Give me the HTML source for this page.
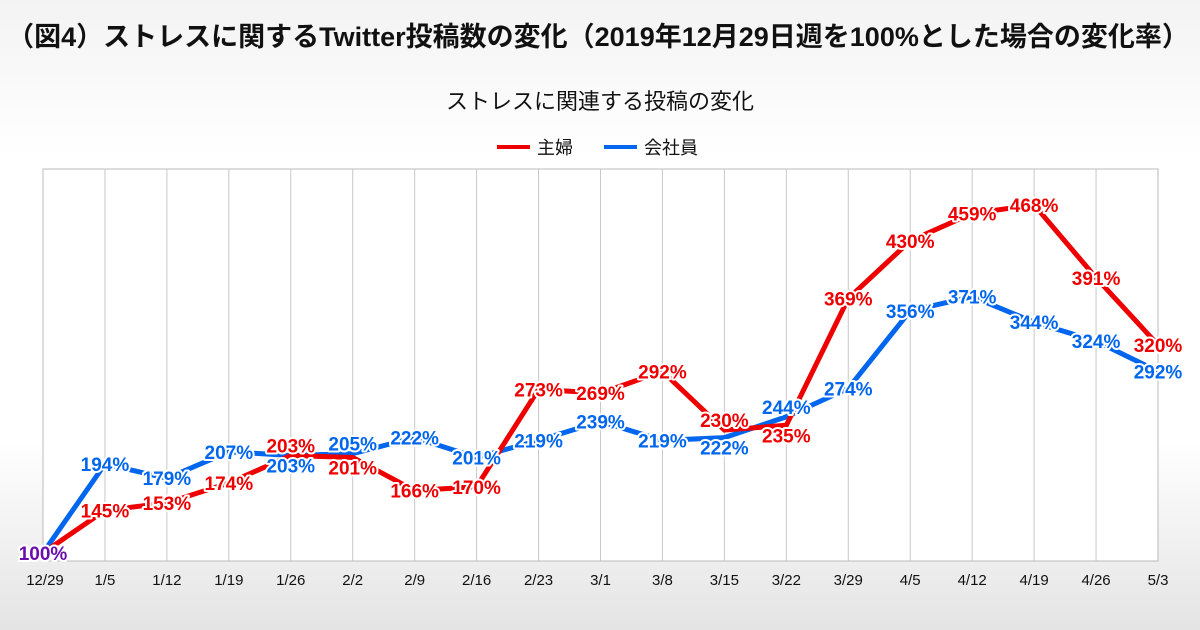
<!DOCTYPE html>
<html><head><meta charset="utf-8"><style>
html,body{margin:0;padding:0}
body{width:1200px;height:630px;overflow:hidden;background:linear-gradient(#f3f3f3 0%,#fff 25%,#fff 70%,#e4e4e4 100%);font-family:"Liberation Sans","Noto Sans CJK JP",sans-serif}
</style></head><body>
<svg width="1200" height="630" style="position:absolute;left:0;top:0;font-family:'Liberation Sans','Noto Sans CJK JP',sans-serif">
<text x="598" y="46" text-anchor="middle" font-size="27" font-weight="bold" fill="#111">（図4）ストレスに関するTwitter投稿数の変化（2019年12月29日週を100%とした場合の変化率）</text>
<text x="600" y="109" text-anchor="middle" font-size="22" fill="#111">ストレスに関連する投稿の変化</text>
<g>
<line x1="497" y1="147" x2="530" y2="147" stroke="#ee0000" stroke-width="4"/>
<text x="537" y="154" font-size="18" fill="#111">主婦</text>
<line x1="604" y1="147" x2="637" y2="147" stroke="#0066ee" stroke-width="4"/>
<text x="644" y="154" font-size="18" fill="#111">会社員</text>
</g>
<rect x="43" y="169" width="1115" height="392" fill="#fff" stroke="#bbb"/>
<g id="grid"></g><g id="xt"></g><g id="lines"></g><g id="labels"></g>
</svg>
<script>
const categories=["12/29","1/5","1/12","1/19","1/26","2/2","2/9","2/16","2/23","3/1","3/8","3/15","3/22","3/29","4/5","4/12","4/19","4/26","5/3"];
const housewife=[100,145,153,174,203,201,166,170,273,269,292,230,235,369,430,459,468,391,320];
const employee=[100,194,179,207,203,205,222,201,219,239,219,222,244,274,356,371,344,324,292];
const NS="http://www.w3.org/2000/svg";
const L=43,R=1158,T=169,B=561,ymin=91.5,ymax=506;
const xs=i=>L+i*(R-L)/(categories.length-1);
const ys=v=>B-(v-ymin)/(ymax-ymin)*(B-T);
function mk(t,a,p){const e=document.createElementNS(NS,t);for(const k in a)e.setAttribute(k,a[k]);p.appendChild(e);return e;}
const grid=document.getElementById('grid'),xt=document.getElementById('xt');
categories.forEach((c,i)=>{
 if(i>0&&i<categories.length-1){const g=mk('line',{x1:xs(i),x2:xs(i),y1:T,y2:B,stroke:'#c8c8c8'},grid);
 
 }
 const t=mk('text',{x:xs(i)+(i==0?2:0),y:585,'text-anchor':'middle','font-size':15,fill:'#111'},xt);t.textContent=c;
 
 
});
const lines=document.getElementById('lines'),labels=document.getElementById('labels');
function series(d,other,col,name,tieUp){
 const p=mk('polyline',{points:d.map((v,i)=>xs(i)+','+ys(v)).join(' '),fill:'none',stroke:col,'stroke-width':5,'stroke-linejoin':'miter'},lines);
 
 
 d.forEach((v,i)=>{
  let dy=0;
  if(i>0&&Math.abs(v-other[i])<16){dy=(v>other[i]||(v==other[i]&&tieUp))?-10:10;}
  const t=mk('text',{x:xs(i)+(i==0?0:0),y:ys(v)+7+dy,'text-anchor':'middle','font-size':19,'font-weight':'bold','font-family':"'Liberation Sans Narrow','Liberation Sans',sans-serif",fill:i==0?'#6a0dad':col,stroke:'#fff','stroke-width':4,'paint-order':'stroke','stroke-linejoin':'round'},labels);
  t.textContent=v+'%';
  
  
 });
}
series(employee,housewife,'#0066ee','employee',false);
series(housewife,employee,'#ee0000','housewife',true);
</script>
</body></html>
